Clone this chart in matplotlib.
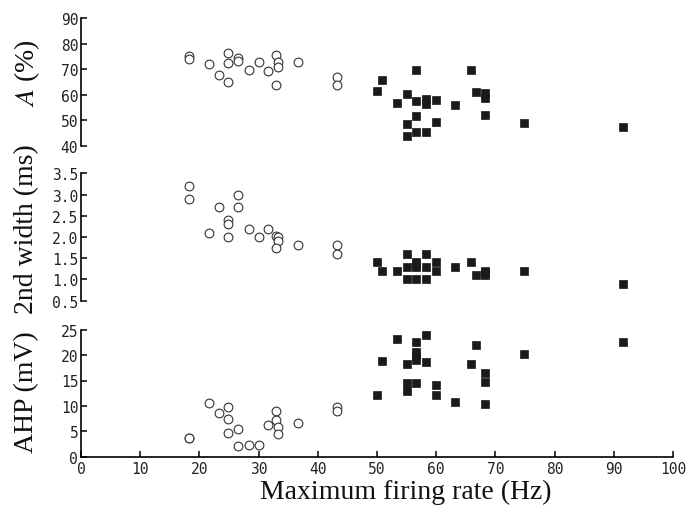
import matplotlib
matplotlib.use("Agg")
import matplotlib.pyplot as plt
import numpy as np

plt.rcParams["mathtext.fontset"] = "stix"

# ---- data: slow-firing neurons (open circles) ----
slow_x_A = [18.3, 18.3, 21.6, 23.3, 24.9, 24.9, 24.9, 26.6, 26.6, 28.3, 30.0,
            31.6, 32.9, 33.3, 33.3, 32.9, 36.7, 43.3, 43.3]
slow_A = [75.1, 74.0, 72.1, 67.7, 76.3, 72.3, 64.9, 74.3, 73.2, 69.8, 73.0,
          69.4, 75.7, 72.7, 70.8, 63.8, 72.7, 67.1, 63.8]

slow_x_W = [18.3, 18.3, 21.6, 23.3, 24.9, 24.9, 24.9, 26.6, 26.6, 28.3, 30.0,
            31.6, 32.9, 33.3, 33.3, 32.9, 36.7, 43.3, 43.3]
slow_W = [3.2, 2.9, 2.1, 2.7, 2.4, 2.3, 2.0, 3.0, 2.7, 2.2, 2.0,
          2.2, 2.02, 2.0, 1.9, 1.75, 1.8, 1.8, 1.6]

slow_x_AHP = [18.3, 18.3, 21.6, 23.3, 24.9, 24.9, 24.9, 26.6, 26.6, 28.3, 30.0,
              31.6, 32.9, 32.9, 33.3, 33.3, 36.7, 43.3, 43.3]
slow_AHP = [3.6, 3.6, 10.6, 8.7, 9.8, 7.4, 4.6, 5.45, 2.2, 2.4, 2.4,
            6.2, 8.9, 7.3, 5.85, 4.4, 6.6, 9.8, 8.9]

# ---- data: fast-firing neurons (filled squares) ----
fast_x_A = [50.0, 50.9, 53.3, 55.0, 55.0, 55.0, 56.6, 56.6, 56.6, 56.6, 58.2, 58.2,
            58.2, 59.9, 59.9, 63.2, 65.9, 66.7, 68.3, 68.3, 68.3, 74.9, 91.6]
fast_A = [61.6, 65.8, 56.7, 60.3, 48.6, 43.9, 69.6, 57.5, 51.6, 45.4, 58.3, 56.5,
          45.4, 58.0, 49.4, 56.0, 69.8, 61.0, 60.5, 58.7, 51.9, 48.9, 47.2]

fast_x_W = [50.0, 50.9, 53.3, 55.0, 55.0, 55.0, 56.6, 56.6, 56.6, 56.6, 58.2, 58.2,
            58.2, 59.9, 59.9, 63.2, 65.9, 66.7, 68.3, 68.3, 68.3, 74.9, 91.6]
fast_W = [1.4, 1.2, 1.2, 1.6, 1.3, 1.0, 1.4, 1.35, 1.3, 1.0, 1.6, 1.3,
          1.0, 1.4, 1.2, 1.3, 1.4, 1.1, 1.2, 1.15, 1.1, 1.2, 0.9]

fast_x_AHP = [50.0, 50.9, 53.3, 55.0, 55.0, 55.0, 56.6, 56.6, 56.6, 56.6, 56.6, 58.2,
              58.2, 59.9, 59.9, 63.2, 65.9, 66.7, 68.3, 68.3, 68.3, 74.9, 91.6]
fast_AHP = [12.1, 18.9, 23.2, 18.2, 14.5, 12.9, 22.5, 20.6, 19.9, 19.1, 14.5, 24.0,
            18.6, 14.1, 12.1, 10.8, 18.2, 21.9, 16.5, 14.8, 10.4, 20.2, 22.6]

x_ticks = [0, 10, 20, 30, 40, 50, 60, 70, 80, 90, 100]
A_ticks = [40, 50, 60, 70, 80, 90]
W_ticks = [0.5, 1.0, 1.5, 2.0, 2.5, 3.0, 3.5]
AHP_ticks = [0, 5, 10, 15, 20, 25]

W, H = 688, 510
fig = plt.figure(figsize=(W / 100, H / 100), dpi=100)

left = 81 / W
width = (673 - 81) / W

def mk_ax(top_px, bot_px):
    return fig.add_axes([left, 1 - bot_px / H, width, (bot_px - top_px) / H])

tick_font = dict(family="DejaVu Sans Mono", size=10.5, color="#222222")
label_font = dict(family="Liberation Serif", size=20, color="#111111")

panels = [
    (mk_ax(19.3, 146.7), slow_x_A, slow_A, fast_x_A, fast_A, (40, 90), A_ticks, "%d"),
    (mk_ax(174.3, 301.7), slow_x_W, slow_W, fast_x_W, fast_W, (0.5, 3.5), W_ticks, "%.1f"),
    (mk_ax(330.7, 457.7), slow_x_AHP, slow_AHP, fast_x_AHP, fast_AHP, (0, 25), AHP_ticks, "%d"),
]

for i, (ax, sx, sy, fx, fy, ylim, yt, fmt) in enumerate(panels):
    ax.plot(sx, sy, linestyle="none", marker="o", markersize=6.3,
            markerfacecolor="white", markeredgecolor="#333333", markeredgewidth=0.8,
            clip_on=False)
    ax.plot(fx, fy, linestyle="none", marker="s", markersize=5.6,
            markerfacecolor="#1a1a1a", markeredgecolor="#1a1a1a", markeredgewidth=0.5,
            clip_on=False)
    ax.set_xlim(0, 100)
    ax.set_ylim(*ylim)
    ax.set_yticks(yt)
    ax.set_yticklabels([fmt % v for v in yt], **tick_font)
    for s in ["top", "right"]:
        ax.spines[s].set_visible(False)
    ax.spines["left"].set_linewidth(1.2)
    ax.tick_params(axis="y", direction="in", length=4, width=1.1, pad=2)
    if i < 2:
        ax.spines["bottom"].set_visible(False)
        ax.set_xticks([])
    else:
        ax.spines["bottom"].set_linewidth(1.2)
        ax.set_xticks(x_ticks)
        ax.set_xticklabels([str(v) for v in x_ticks], **tick_font)
        ax.tick_params(axis="x", direction="in", length=4, width=1.1, pad=3)

fig.text(27 / W, 1 - 73 / H, r"$\mathit{A}$ (%)", rotation=90, ha="center", va="center",
         **label_font)
fig.text(27 / W, 1 - 229 / H, "2nd width (ms)", rotation=90, ha="center", va="center",
         **label_font)
fig.text(27 / W, 1 - 392 / H, "AHP (mV)", rotation=90, ha="center", va="center",
         **label_font)
fig.text(406 / W, 1 - 492 / H, "Maximum firing rate (Hz)", ha="center", va="center",
         **label_font)

fig.savefig("out.png", dpi=100)
